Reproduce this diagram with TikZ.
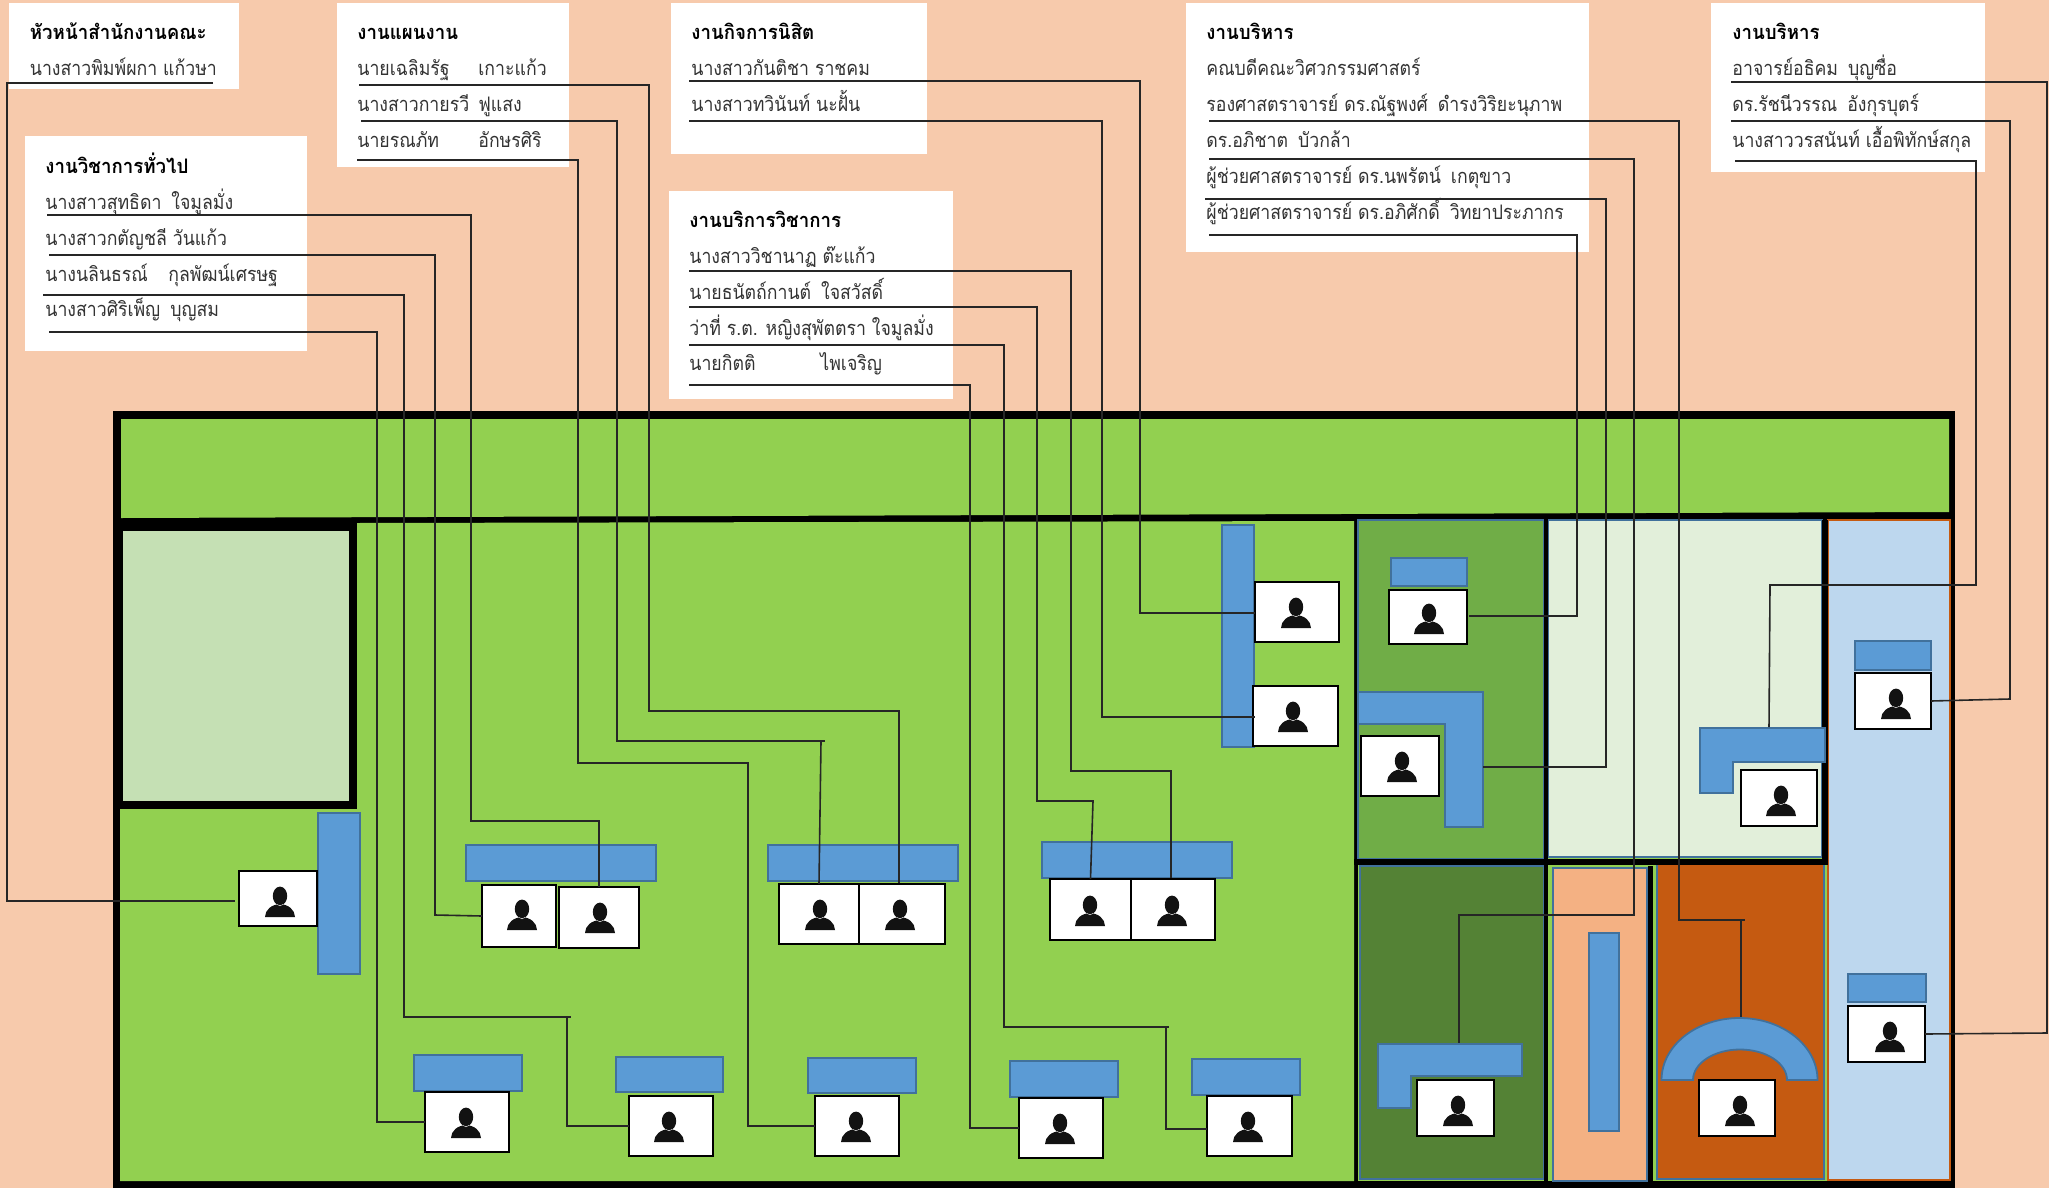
\documentclass[tikz,border=0pt]{standalone}
\usepackage{fontspec}
\setmainfont[Script=Thai,FakeStretch=0.885]{Loma}
\newfontfamily\titlefont[Script=Thai,FakeStretch=0.935]{Loma}
\definecolor{peachbg}{HTML}{F7CAAC}
\definecolor{floorgreen}{HTML}{92D050}
\definecolor{deskblue}{HTML}{5B9BD5}
\definecolor{edgeblue}{HTML}{41719C}
\definecolor{palegreen}{HTML}{C5E0B4}
\definecolor{midgreen}{HTML}{70AD47}
\definecolor{lightgreen}{HTML}{E2EFDA}
\definecolor{darkgreen}{HTML}{548235}
\definecolor{lightblue}{HTML}{BDD7EE}
\definecolor{lightorange}{HTML}{F4B183}
\definecolor{darkorange}{HTML}{C55A11}
\tikzset{
card/.style={fill=white,draw=none},
titletext/.style={anchor=base west,inner sep=0pt,font=\fontsize{10}{12}\titlefont\bfseries},
nametext/.style={anchor=base west,inner sep=0pt,font=\fontsize{10}{12}\selectfont,text=black!80},
room/.style={draw=edgeblue,line width=1.2pt},
desk/.style={fill=deskblue,draw=edgeblue,line width=0.9pt},
leader/.style={draw=black!85,line width=0.8pt},
staffbox/.style={draw=black,fill=white,line width=1pt,inner sep=0pt,outer sep=0pt},
pics/person/.style={code={
\fill[black!93] (0pt,3pt) ellipse [x radius=3.6pt,y radius=4.7pt];
\fill[black!93] (-7.5pt,-7.5pt) arc [start angle=180,end angle=0,x radius=7.5pt,y radius=6.4pt] -- cycle;
\draw[white,line width=0.2pt] (-1.5pt,-1.2pt) -- (0pt,-1.9pt) -- (1.5pt,-1.2pt);
}},
}
\newcommand{\staff}[7]{\node[staffbox,minimum width={(#4-#2)*0.5pt},minimum height={(#5-#3)*0.5pt}] (#1) at ({(#2+#4)/2},{(#3+#5)/2}) {};
\pic at (#6,#7) {person};}
\newcommand{\twocol}[3]{\makebox[#1][l]{#2}#3}
\begin{document}
\begin{tikzpicture}[x=0.5pt,y=-0.5pt]
\useasboundingbox (0,0) rectangle (2049,1188);
\fill[peachbg] (0,0) rectangle (2049,1188);

% cards
\fill[card] (9,3) rectangle (239,89);
\fill[card] (337,3) rectangle (569,167);
\fill[card] (25,136) rectangle (307,351);
\fill[card] (671,3) rectangle (927,154);
\fill[card] (669,191) rectangle (953,399);
\fill[card] (1186,3) rectangle (1589,252);
\fill[card] (1711,3) rectangle (1985,172);

\begin{scope}[yshift=-0.6pt]
\node[titletext] (headtitle) at (29.5,38) {หัวหน้าสำนักงานคณะ};
\node[nametext] (head1) at (29.5,74) {นางสาวพิมพ์ผกา แก้วษา};

\node[titletext] (plantitle) at (357,38) {งานแผนงาน};
\node[nametext] (plan1) at (357,74) {\twocol{60.5pt}{นายเฉลิมรัฐ}{เกาะแก้ว}};
\node[nametext] (plan2) at (357,110) {\twocol{60.5pt}{นางสาวกายรวี}{ฟูแสง}};
\node[nametext] (plan3) at (357,146) {\twocol{60.5pt}{นายรณภัท}{อักษรศิริ}};

\node[titletext] (gentitle) at (45,172) {งานวิชาการทั่วไป};
\node[nametext] (gen1) at (45,208) {นางสาวสุทธิดา\enspace ใจมูลมั่ง};
\node[nametext] (gen2) at (45,244) {นางสาวกตัญชลี วันแก้ว};
\node[nametext] (gen3) at (45,280) {\twocol{61.5pt}{นางนลินธรณ์}{กุลพัฒน์เศรษฐ}};
\node[nametext] (gen4) at (45,315) {นางสาวศิริเพ็ญ\enspace บุญสม};

\node[titletext] (stutitle) at (691,38) {งานกิจการนิสิต};
\node[nametext] (stu1) at (691,74) {นางสาวกันติชา ราชคม};
\node[nametext] (stu2) at (691,110) {นางสาวทวินันท์ นะฝั้น};

\node[titletext] (servtitle) at (689,226) {งานบริการวิชาการ};
\node[nametext] (serv1) at (689,262) {นางสาววิชานาฏ ต๊ะแก้ว};
\node[nametext] (serv2) at (689,298) {นายธนัตถ์กานต์\enspace ใจสวัสดิ์};
\node[nametext] (serv3) at (689,334) {ว่าที่ ร.ต. หญิงสุพัตตรา ใจมูลมั่ง};
\node[nametext] (serv4) at (689,369) {\twocol{65.5pt}{นายกิตติ}{ไพเจริญ}};

\node[titletext] (admtitle) at (1206,38) {งานบริหาร};
\node[nametext] (adm1) at (1206,74) {คณบดีคณะวิศวกรรมศาสตร์};
\node[nametext] (adm2) at (1206,110) {รองศาสตราจารย์ ดร.ณัฐพงศ์\enspace ดำรงวิริยะนุภาพ};
\node[nametext] (adm3) at (1206,146) {ดร.อภิชาต\enspace บัวกล้า};
\node[nametext] (adm4) at (1206,182) {ผู้ช่วยศาสตราจารย์ ดร.นพรัตน์\enspace เกตุขาว};
\node[nametext] (adm5) at (1206,218) {ผู้ช่วยศาสตราจารย์ ดร.อภิศักดิ์\enspace วิทยาประภากร};

\node[titletext] (offtitle) at (1732,38) {งานบริหาร};
\node[nametext] (off1) at (1732,74) {อาจารย์อธิคม\enspace บุญซื่อ};
\node[nametext] (off2) at (1732,110) {ดร.รัชนีวรรณ\enspace อังกุรบุตร์};
\node[nametext] (off3) at (1732,146) {นางสาววรสนันท์ เอื้อพิทักษ์สกุล};
\end{scope}

% floor
\fill[black] (113,411) rectangle (1955,1188);
\fill[floorgreen] (121,419) -- (1949,419) -- (1949,512) -- (121,518) -- cycle;
\fill[floorgreen] (357,523) -- (1354,521) -- (1354,1181) -- (120,1181) -- (120,809) -- (357,809) -- cycle;
\fill[palegreen] (123,531) rectangle (349,801);
\fill[floorgreen] (1358,520) rectangle (1950,1181);

% rooms
\draw[room,fill=midgreen] (1358,520) rectangle (1544,859);
\draw[room,fill=lightgreen] (1548,520) rectangle (1822,857);
\draw[room,fill=darkgreen] (1360,866) rectangle (1544,1179);
\draw[room,fill=lightorange] (1553,868) rectangle (1647,1181);
\draw[room,fill=darkorange] (1657,864) rectangle (1824,1179);
\draw[room,draw=darkorange,fill=lightblue] (1828,520) rectangle (1950,1180);

\fill[black] (1354,859) rectangle (1827,865);
\fill[black] (1544,515) rectangle (1548,1181);
\fill[black] (1648,866) rectangle (1653,1181);
\fill[black] (1822,520) rectangle (1828,865);

\begin{scope}[yshift=-0.5pt]
% desks
\draw[desk] (318,812) rectangle (360,973);
\draw[desk] (466,844) rectangle (656,880);
\draw[desk] (768,844) rectangle (958,880);
\draw[desk] (1042,841) rectangle (1232,877);
\draw[desk] (1222,524) rectangle (1254,746);
\draw[desk] (414,1054) rectangle (522,1090);
\draw[desk] (616,1056) rectangle (723,1091);
\draw[desk] (808,1057) rectangle (916,1092);
\draw[desk] (1010,1060) rectangle (1118,1096);
\draw[desk] (1192,1058) rectangle (1300,1094);
\draw[desk] (1391,557) rectangle (1467,585);
\draw[desk] (1358,691) -- (1483,691) -- (1483,826) -- (1445,826) -- (1445,723) -- (1358,723) -- cycle;
\draw[desk] (1700,727) -- (1825,727) -- (1825,761) -- (1733,761) -- (1733,792) -- (1700,792) -- cycle;
\draw[desk] (1855,640) rectangle (1931,669);
\draw[desk] (1848,973) rectangle (1926,1001);
\draw[desk] (1378,1043) -- (1522,1043) -- (1522,1075) -- (1411,1075) -- (1411,1107) -- (1378,1107) -- cycle;
\draw[desk] (1589,932) rectangle (1619,1130);
\draw[desk] (1661.5,1079) arc [start angle=180,end angle=0,x radius=39pt,y radius=31pt] -- (1787,1079) arc [start angle=0,end angle=180,x radius=23.5pt,y radius=15.25pt] -- cycle;

% staff
\staff{pHead}{239}{870}{317}{925}{280}{901}
\staff{pGenA}{482}{884}{556}{946}{522}{914}
\staff{pGenB}{559}{886}{639}{947}{600}{917}
\staff{pPlanA}{779}{883}{859}{943}{820}{914}
\staff{pPlanB}{859}{883}{945}{943}{900}{914}
\staff{pServA}{1050}{878}{1131}{939}{1090}{910}
\staff{pServB}{1131}{878}{1215}{939}{1172}{910}
\staff{pStuA}{1255}{581}{1339}{641}{1296}{612}
\staff{pStuB}{1253}{685}{1338}{745}{1293}{716}
\staff{pLowA}{425}{1091}{509}{1151}{466}{1122}
\staff{pLowB}{629}{1095}{713}{1155}{669}{1126}
\staff{pLowC}{815}{1095}{899}{1155}{856}{1126}
\staff{pLowD}{1019}{1097}{1103}{1157}{1060}{1128}
\staff{pLowE}{1207}{1095}{1292}{1155}{1248}{1126}
\staff{pRoomA}{1389}{589}{1467}{643}{1429}{618}
\staff{pRoomB}{1361}{735}{1439}{795}{1402}{766}
\staff{pRoomC}{1741}{769}{1817}{825}{1781}{800}
\staff{pRoomD}{1855}{672}{1931}{728}{1896}{703}
\staff{pRoomE}{1848}{1005}{1925}{1061}{1890}{1036}
\staff{pRoomF}{1417}{1079}{1494}{1135}{1458}{1110}
\staff{pRoomG}{1699}{1079}{1775}{1135}{1740}{1110}
\end{scope}

% leaders
\coordinate (ruleHead) at (213,83);
\coordinate (headEnd) at (235,901);
\coordinate (archTop) at (1741,1017);
\coordinate (deskF) at (1459,1043);
\coordinate (deskB) at (1483,767);
\coordinate (deskC) at (1769,727);
\draw[leader] (ruleHead) -- (7,83) -- (7,901) -- (headEnd);

\draw[leader] (47,215) -- (471,215) -- (471,821) -- (599,821) -- (pGenB.north);
\draw[leader] (49,255) -- (435,255) -- (435,915) -- (pGenA.west);
\draw[leader] (43,295) -- (404,295) -- (404,1017) -- (571,1017);
\draw[leader] (567,1017) |- (pLowB.west);
\draw[leader] (49,332) -- (377,332) |- (pLowA.west);

\draw[leader] (359,85) -- (649,85) -- (649,711) -- (899,711) -- (899,883);
\draw[leader] (361,121) -- (617,121) -- (617,741) -- (825,741);
\draw[leader] (821,741) -- (pPlanA.north);
\draw[leader] (357,160) -- (578,160) -- (578,763) -- (748,763) |- (pLowC.west);

\draw[leader] (689,81) -- (1140,81) -- (1140,613) -- (1255,613);
\draw[leader] (689,121) -- (1102,121) -- (1102,717) -- (1255,717);

\draw[leader] (689,271) -- (1071,271) -- (1071,771) -- (1171,771) -- (1171,878);
\draw[leader] (689,307) -- (1037,307) -- (1037,801) -- (1093,801) -- (pServA.north);
\draw[leader] (689,345) -- (1004,345) -- (1004,1027) -- (1169,1027);
\draw[leader] (1166,1027) -- (1166,1129) -- (1207,1129);
\draw[leader] (689,385) -- (970,385) |- (pLowD.west);

\draw[leader] (1209,121) -- (1679,121) -- (1679,920) -- (1745,920);
\draw[leader] (1741,920) -- (archTop);
\draw[leader] (1209,159) -- (1634,159) -- (1634,915) -- (1459,915) -- (deskF);
\draw[leader] (1205,199) -- (1606,199) -- (1606,767) -- (deskB);
\draw[leader] (1209,235) -- (1577,235) -- (1577,616) -- (1469,616);

\draw[leader] (1731,82) -- (2047,82) -- (2047,1033) -- (pRoomE.east);
\draw[leader] (1731,121) -- (2010,121) -- (2010,699) -- (pRoomD.east);
\draw[leader] (1735,161) -- (1976,161) -- (1976,585) -- (1770,585) -- (deskC);
\end{tikzpicture}
\end{document}
